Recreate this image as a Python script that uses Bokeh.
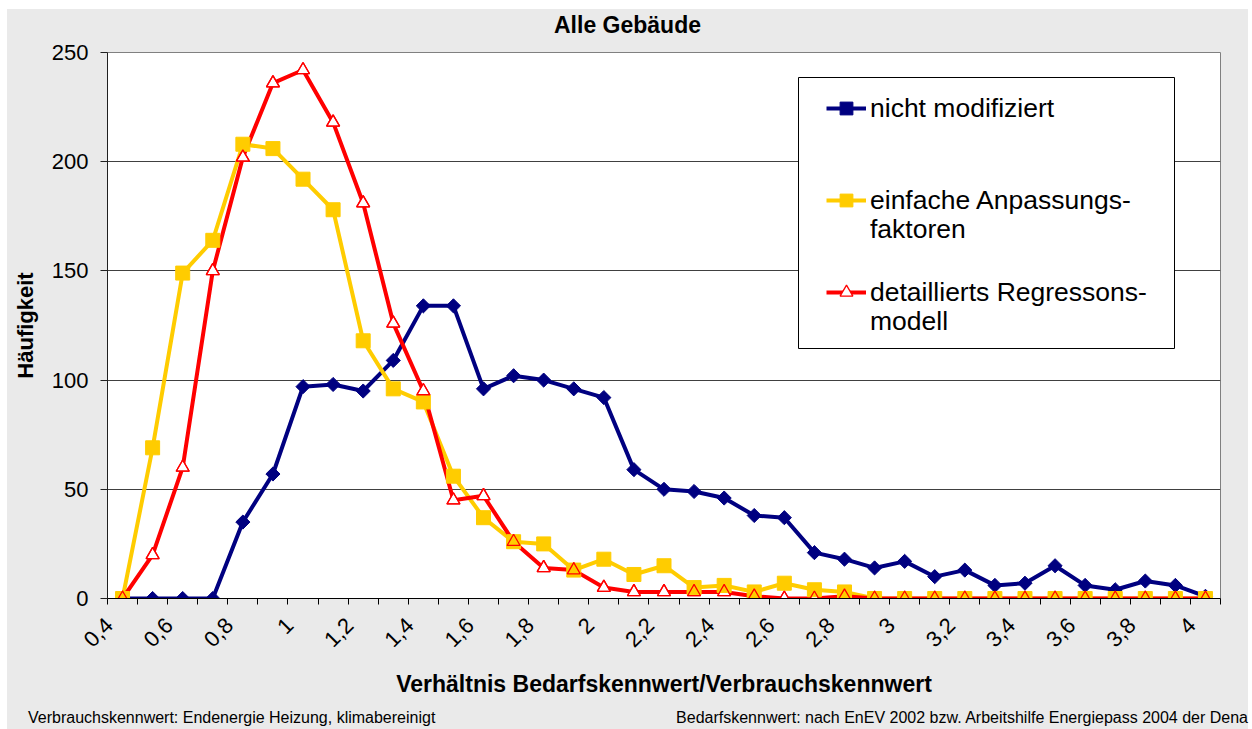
import numpy as np
from bokeh.plotting import figure
from bokeh.layouts import column
from bokeh.models import (FixedTicker, Legend, LegendItem, Range1d, Div,
                          ColumnDataSource, BoxAnnotation)
from bokeh.embed import file_html
from bokeh.resources import INLINE

# ---- data -------------------------------------------------------------
ratio = [0.4, 0.5, 0.6, 0.7, 0.8, 0.9, 1.0, 1.1, 1.2, 1.3, 1.4, 1.5, 1.6,
         1.7, 1.8, 1.9, 2.0, 2.1, 2.2, 2.3, 2.4, 2.5, 2.6, 2.7, 2.8, 2.9,
         3.0, 3.1, 3.2, 3.3, 3.4, 3.5, 3.6, 3.7, 3.8, 3.9, 4.0]
nicht_modifiziert = [0, 0, 0, 0, 35, 57, 97, 98, 95, 109, 134, 134, 96,
                     102, 100, 96, 92, 59, 50, 49, 46, 38, 37, 21, 18, 14,
                     17, 10, 13, 6, 7, 15, 6, 4, 8, 6, 1]
einfache_anpassung = [0, 69, 149, 164, 208, 206, 192, 178, 118, 96, 90, 56, 37,
                      26, 25, 13, 18, 11, 15, 5, 6, 3, 7, 4, 3, 0,
                      0, 0, 0, 0, 0, 0, 0, 0, 0, 0, 0]
detailliert_regression = [0, 20, 60, 150, 202, 236, 242, 218, 181, 126, 95, 45, 47,
                          26, 14, 13, 5, 3, 3, 3, 3, 1, 0, 0, 1, 0,
                          0, 0, 0, 0, 0, 0, 0, 0, 0, 0, 0]
legend_first_lines = ["nicht modifiziert", "einfache Anpassungs-",
                      "detaillierts Regressons-"]
legend_second_lines = ["faktoren", "modell"]
x_tick_values = [0.4, 0.6, 0.8, 1.0, 1.2, 1.4, 1.6, 1.8, 2.0, 2.2, 2.4, 2.6,
                 2.8, 3.0, 3.2, 3.4, 3.6, 3.8, 4.0]
x_tick_labels = ["0,4", "0,6", "0,8", "1", "1,2", "1,4", "1,6", "1,8", "2",
                 "2,2", "2,4", "2,6", "2,8", "3", "3,2", "3,4", "3,6", "3,8", "4"]
y_tick_values = [0, 50, 100, 150, 200, 250]
chart_title = "Alle Gebäude"
footer_left = "Verbrauchskennwert: Endenergie Heizung, klimabereinigt"
footer_right = "Bedarfskennwert: nach EnEV 2002 bzw. Arbeitshilfe Energiepass 2004 der Dena"

# ---- styling / layout ------------------------------------------------
FONT = "Liberation Sans"
NAVY = "#000080"
GOLD = "#FFCC00"
RED = "#FF0000"
BG = "#EAEAEA"

OX, OY = 7, 9                    # offset of the chart area on the page
W = 1241                         # chart width
HEAD_H = 26                      # title strip height
FOOT_H = 24                      # footer strip height
H = 729 - OY - HEAD_H - FOOT_H   # figure height
FIG_TOP = OY + HEAD_H            # page y of the figure's top edge
# plot frame in page pixels
PL, PR, PT, PB = 107, 1220, 52, 598
FL, FT = PL - OX, PT - FIG_TOP
FR = OX + W - PR
FB = FIG_TOP + H - PB
X0, X1, Y0, Y1 = 0.35, 4.05, 0, 250


def px_to_x(px):
    return X0 + (px - PL) * (X1 - X0) / (PR - PL)


def py_to_y(py):
    return Y0 + (PB - py) * (Y1 - Y0) / (PB - PT)


src = ColumnDataSource(dict(x=ratio, a=nicht_modifiziert, b=einfache_anpassung,
                            c=detailliert_regression))

p = figure(width=W, height=H, output_backend="svg", toolbar_location=None,
           x_range=Range1d(X0, X1), y_range=Range1d(Y0, Y1),
           min_border_left=FL, min_border_right=FR, min_border_top=FT,
           min_border_bottom=FB, background_fill_color="white",
           border_fill_color=BG, outline_line_color="#808080", margin=0)

# grid
p.xgrid.visible = False
p.ygrid.ticker = FixedTicker(ticks=y_tick_values)
p.ygrid.grid_line_color = "#404040"
p.ygrid.grid_line_width = 1

# y axis
ya = p.yaxis[0]
ya.ticker = FixedTicker(ticks=y_tick_values)
ya.axis_line_color = "#202020"
ya.major_tick_out = 7
ya.major_tick_in = 0
ya.major_tick_line_color = "#202020"
ya.minor_tick_line_color = None
ya.major_label_text_font = FONT
ya.major_label_text_font_size = "22px"
ya.major_label_text_color = "black"
ya.major_label_standoff = 12
ya.axis_label = "Häufigkeit"
ya.axis_label_text_font = FONT
ya.axis_label_text_font_size = "22px"
ya.axis_label_text_font_style = "bold"
ya.axis_label_text_color = "black"
ya.axis_label_standoff = 11

# x axis: category boundaries carry the tick marks, labels every 2nd category
boundaries = list(np.round(np.arange(0.35, 4.06, 0.1), 2))
label_shift = 0.045   # rotated labels sit slightly left of their category
x_label_pos = [round(v - label_shift, 3) for v in x_tick_values]
xa = p.xaxis[0]
xa.ticker = FixedTicker(ticks=x_label_pos, minor_ticks=boundaries)
xa.major_label_overrides = dict(zip(x_label_pos, x_tick_labels))
xa.axis_line_color = "black"
xa.major_tick_line_color = None
xa.major_tick_out = 6
xa.major_tick_in = 0
xa.minor_tick_line_color = "black"
xa.minor_tick_out = 6
xa.minor_tick_in = 0
xa.major_label_orientation = np.pi / 4
xa.major_label_text_font = FONT
xa.major_label_text_font_size = "22px"
xa.major_label_text_color = "black"
xa.major_label_standoff = 17
xa.axis_label = "Verhältnis Bedarfskennwert/Verbrauchskennwert"
xa.axis_label_text_font = FONT
xa.axis_label_text_font_size = "23px"
xa.axis_label_text_font_style = "bold"
xa.axis_label_text_color = "black"
xa.axis_label_standoff = 14

# lines first (markers sit on top of all lines)
la = p.line("x", "a", source=src, color=NAVY, line_width=4)
lb = p.line("x", "b", source=src, color=GOLD, line_width=4)
lc = p.line("x", "c", source=src, color=RED, line_width=4)

ma = p.scatter("x", "a", source=src, marker="square", angle=np.pi / 4, size=10,
               fill_color=NAVY, line_color=NAVY)
mc_fill = p.scatter("x", "c", source=src, marker="triangle", size=13,
                    fill_color="white", line_color=RED, line_width=1.3)
mb = p.scatter("x", "b", source=src, marker="square", size=14,
               fill_color=GOLD, line_color=GOLD)
mc = p.scatter("x", "c", source=src, marker="triangle", size=13,
               fill_color=None, line_color=RED, line_width=1.3)

# legend box
p.add_layout(BoxAnnotation(left=px_to_x(798), right=px_to_x(1174),
                           top=py_to_y(77), bottom=py_to_y(348),
                           fill_color="white", fill_alpha=1,
                           line_color="black", line_width=1, line_alpha=1))

leg_common = dict(margin=0, padding=0, spacing=60, glyph_height=32,
                  label_height=32, label_text_font=FONT,
                  label_text_font_size="26.5px", label_text_color="black",
                  border_line_color=None, background_fill_alpha=0)

legend = Legend(items=[
    LegendItem(label=legend_first_lines[0], renderers=[la, ma]),
    LegendItem(label=legend_first_lines[1], renderers=[lb, mb]),
    LegendItem(label=legend_first_lines[2], renderers=[lc, mc_fill]),
], location=(826 - PL, PB - 308), glyph_width=40, label_standoff=4,
    **leg_common)
p.add_layout(legend)

legend_cont = Legend(items=[
    LegendItem(label=legend_second_lines[0], renderers=[lb]),
    LegendItem(label=legend_second_lines[1], renderers=[lc]),
], location=(826 - PL, PB - 337), glyph_width=0, label_standoff=44,
    **leg_common)
p.add_layout(legend_cont)

header_html = (
    f'<div style="position:relative;width:{W}px;height:{HEAD_H}px;'
    f"font-family:'{FONT}';font-size:23px;font-weight:bold;color:black;"
    'line-height:24px;white-space:nowrap;">'
    f'<span style="position:absolute;left:{554 - OX}px;top:4px;">{chart_title}</span>'
    '</div>')
header = Div(text=header_html, width=W, height=HEAD_H, margin=0,
             styles={"background-color": BG})

footer_html = (
    f'<div style="position:relative;width:{W}px;height:{FOOT_H}px;'
    f"font-family:'{FONT}';font-size:16px;color:black;line-height:26px;"
    'white-space:nowrap;">'
    f'<span style="position:absolute;left:{28 - OX}px;top:0;">{footer_left}</span>'
    f'<span style="position:absolute;right:0;top:0;">{footer_right}</span>'
    '</div>')
footer = Div(text=footer_html, width=W, height=FOOT_H, margin=0,
             styles={"background-color": BG})

layout = column(header, p, footer, margin=(OY, 0, 0, OX), spacing=0,
                styles={"background-color": BG})

open("out.html", "w").write(file_html(layout, INLINE))
